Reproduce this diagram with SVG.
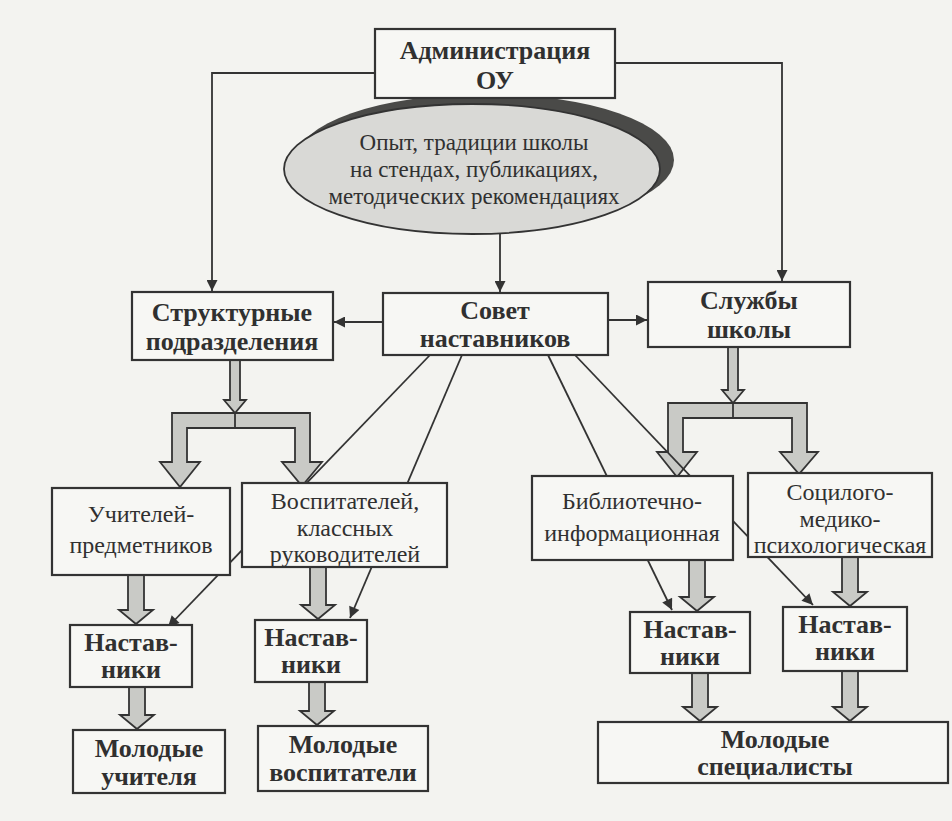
<svg xmlns="http://www.w3.org/2000/svg" width="952" height="821" viewBox="0 0 952 821">
<defs>
<style>
.bg{fill:#f3f3f0}
.box{fill:#f7f7f4;stroke:#333;stroke-width:2.2}
.ln{fill:none;stroke:#333;stroke-width:1.8}
.blk{fill:#c9cac6;stroke:#333;stroke-width:1.8;stroke-linejoin:miter}
.b{font-family:"Liberation Serif","Times New Roman",serif;font-weight:bold;font-size:26px;fill:#303030;text-anchor:middle}
.r{font-family:"Liberation Serif","Times New Roman",serif;font-size:24px;fill:#303030;text-anchor:middle}
.e{font-family:"Liberation Serif","Times New Roman",serif;font-size:23px;fill:#303030;text-anchor:middle}
</style>
<marker id="ah" viewBox="0 0 10 10" refX="10" refY="5" markerWidth="13" markerHeight="11" markerUnits="userSpaceOnUse" orient="auto">
<path d="M0,0 L10,5 L0,10 Z" fill="#333"/>
</marker>
</defs>
<rect class="bg" x="0" y="0" width="952" height="821"/>

<g id="connectors">
<polyline class="ln" points="375,73 212,73 212,291" marker-end="url(#ah)"/>
<polyline class="ln" points="615,63 782,63 782,281" marker-end="url(#ah)"/>
<line class="ln" x1="500" y1="233" x2="500" y2="292" marker-end="url(#ah)"/>
<line class="ln" x1="383" y1="322" x2="334" y2="322" marker-end="url(#ah)"/>
<line class="ln" x1="608" y1="320" x2="647" y2="320" marker-end="url(#ah)"/>
<path class="blk" d="M230,360 V400 H224 L235,413 L246,400 H240 V360 Z"/>
<path class="blk" d="M172,413 H310 V462 H322 L302,486 L282,462 H295 V428 H187 V462 H200 L180,487 L160,462 H172 Z"/>
<line class="ln" x1="235" y1="413" x2="235" y2="428"/>
<path class="blk" d="M728,347 V390 H722 L733,403 L744,390 H738 V347 Z"/>
<path class="blk" d="M668,403 H807 V452 H818 L799,474 L780,452 H792 V418 H683 V452 H697 L677,477 L657,452 H668 Z"/>
<line class="ln" x1="733" y1="403" x2="733" y2="418"/>
<line class="ln" x1="430" y1="355" x2="168" y2="627" marker-end="url(#ah)"/>
<line class="ln" x1="462" y1="355" x2="350" y2="618" marker-end="url(#ah)"/>
<line class="ln" x1="548" y1="355" x2="672" y2="610" marker-end="url(#ah)"/>
<line class="ln" x1="575" y1="355" x2="813" y2="605" marker-end="url(#ah)"/>
<path class="blk" d="M128,575 V610 H119 L136,624 L153,610 H144 V575 Z"/>
<path class="blk" d="M310,567 V605 H301 L318,619 L335,605 H326 V567 Z"/>
<path class="blk" d="M129,687 V715 H120 L137,729 L154,715 H145 V687 Z"/>
<path class="blk" d="M309,682 V711 H300 L317,725 L334,711 H325 V682 Z"/>
<path class="blk" d="M689,560 V597 H680 L697,611 L714,597 H705 V560 Z"/>
<path class="blk" d="M842,557 V592 H833 L850,606 L867,592 H858 V557 Z"/>
<path class="blk" d="M692,673 V707 H683 L700,721 L717,707 H708 V673 Z"/>
<path class="blk" d="M842,671 V707 H833 L850,721 L867,707 H858 V671 Z"/>
</g>

<g id="experience">
<ellipse cx="485" cy="160" rx="189" ry="66" fill="#4a4a48"/>
<ellipse cx="472" cy="169" rx="188" ry="65" fill="#d9d9d6" stroke="#333" stroke-width="1.8"/>
<text class="e" x="474" y="150">Опыт, традиции школы</text>
<text class="e" x="474" y="177">на стендах, публикациях,</text>
<text class="e" x="474" y="204">методических рекомендациях</text>
</g>

<g id="admin">
<rect class="box" x="375" y="29" width="240" height="69"/>
<text class="b" x="495" y="59">Администрация</text>
<text class="b" x="495" y="89">ОУ</text>
</g>

<g id="council">
<rect class="box" x="383" y="293" width="225" height="62"/>
<text class="b" x="495" y="319">Совет</text>
<text class="b" x="495" y="347">наставников</text>
</g>

<g id="structural">
<rect class="box" x="132" y="292" width="201" height="68"/>
<text class="b" x="232" y="321">Структурные</text>
<text class="b" x="232" y="350">подразделения</text>
</g>

<g id="services">
<rect class="box" x="648" y="282" width="202" height="65"/>
<text class="b" x="749" y="309">Службы</text>
<text class="b" x="749" y="338">школы</text>
</g>

<g id="teachers">
<rect class="box" x="52" y="488" width="178" height="87"/>
<text class="r" x="141" y="522">Учителей-</text>
<text class="r" x="141" y="553">предметников</text>
</g>

<g id="educators">
<rect class="box" x="242" y="483" width="205" height="84"/>
<text class="r" x="345" y="509">Воспитателей,</text>
<text class="r" x="345" y="536">классных</text>
<text class="r" x="345" y="562">руководителей</text>
</g>

<g id="library">
<rect class="box" x="532" y="476" width="201" height="84"/>
<text class="r" x="632" y="509">Библиотечно-</text>
<text class="r" x="632" y="541">информационная</text>
</g>

<g id="social">
<rect class="box" x="748" y="473" width="184" height="84"/>
<text class="r" x="840" y="500">Социлого-</text>
<text class="r" x="840" y="527">медико-</text>
<text class="r" x="840" y="553">психологическая</text>
</g>

<g id="mentors1">
<rect class="box" x="70" y="625" width="122" height="62"/>
<text class="b" x="131" y="651">Настав-</text>
<text class="b" x="131" y="678">ники</text>
</g>

<g id="mentors2">
<rect class="box" x="255" y="620" width="112" height="62"/>
<text class="b" x="311" y="646">Настав-</text>
<text class="b" x="311" y="673">ники</text>
</g>

<g id="mentors3">
<rect class="box" x="630" y="612" width="120" height="61"/>
<text class="b" x="690" y="638">Настав-</text>
<text class="b" x="690" y="665">ники</text>
</g>

<g id="mentors4">
<rect class="box" x="783" y="607" width="124" height="64"/>
<text class="b" x="845" y="633">Настав-</text>
<text class="b" x="845" y="660">ники</text>
</g>

<g id="young-teachers">
<rect class="box" x="73" y="730" width="152" height="63"/>
<text class="b" x="149" y="757">Молодые</text>
<text class="b" x="149" y="785">учителя</text>
</g>

<g id="young-educators">
<rect class="box" x="258" y="726" width="170" height="65"/>
<text class="b" x="343" y="753">Молодые</text>
<text class="b" x="343" y="781">воспитатели</text>
</g>

<g id="young-specialists">
<rect class="box" x="598" y="722" width="350" height="61"/>
<text class="b" x="775" y="748">Молодые</text>
<text class="b" x="775" y="775">специалисты</text>
</g>
</svg>
